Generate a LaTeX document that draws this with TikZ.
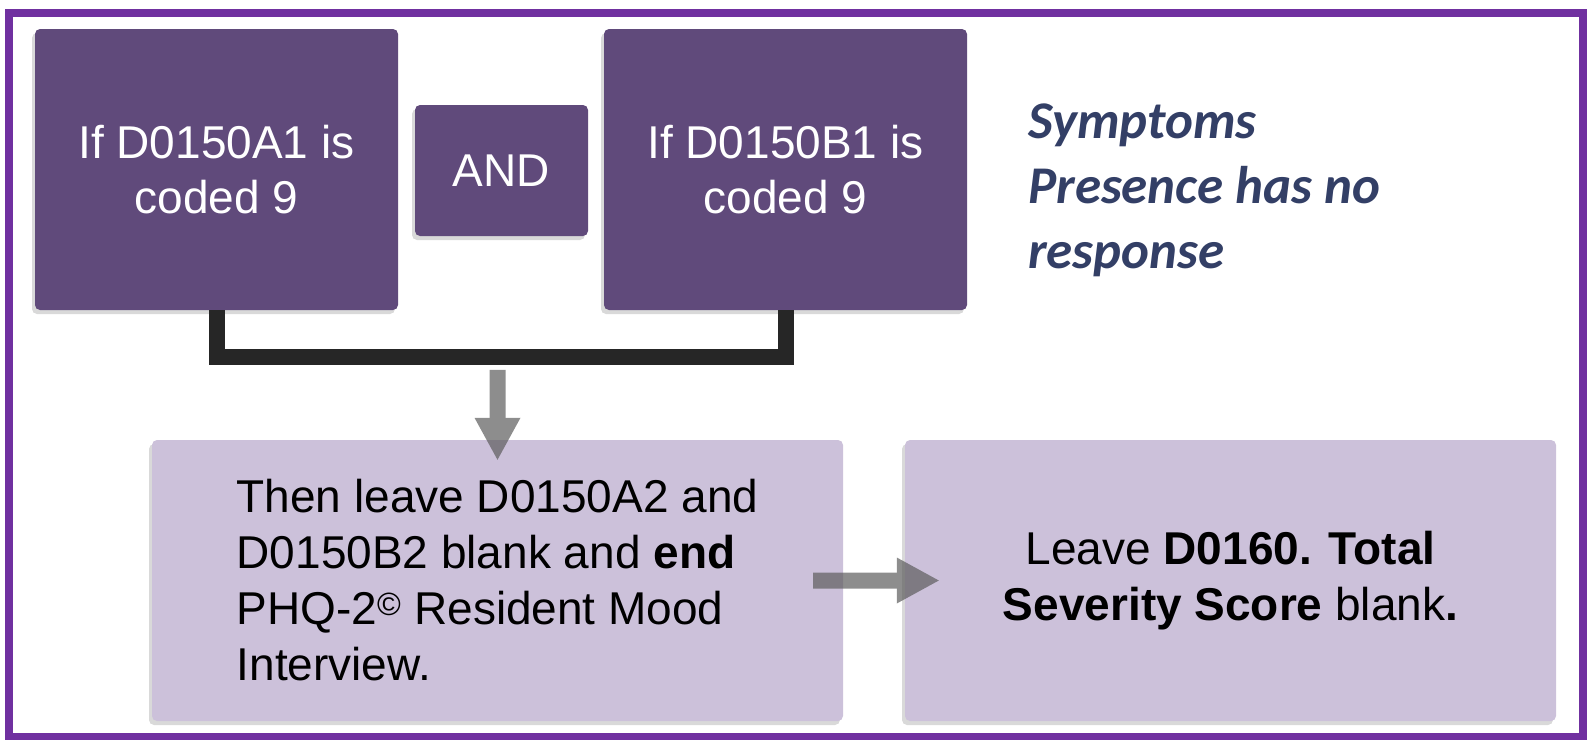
\documentclass[tikz,border=0pt]{standalone}
\usepackage{fontspec}
\setmainfont{Liberation Sans}
\newfontfamily\notefont{Carlito}
\usetikzlibrary{arrows.meta,shadows}
\definecolor{framepurple}{HTML}{7030A0}
\definecolor{darkbox}{HTML}{604A7B}
\definecolor{lightbox}{HTML}{CCC1DA}
\definecolor{notetext}{HTML}{333F66}
\definecolor{bracketgray}{HTML}{262626}
\definecolor{arrowgray}{HTML}{5D5D5D}
\tikzset{
    boxshadow/.style={drop shadow={shadow xshift=-3pt, shadow yshift=-4pt, opacity=0.3}},
    darkstep/.style={fill=darkbox, text=white, rounded corners=5pt, boxshadow, align=center,
        font=\fontsize{46}{55}\selectfont},
    lightstep/.style={fill=lightbox, text=black, rounded corners=5pt, boxshadow,
        font=\fontsize{46}{56}\selectfont},
    bracket/.style={draw=bracketgray, line width=16pt},
    grayarrow/.style={draw=arrowgray, line width=16pt,
        -{Triangle[width=46pt,length=42pt,line width=0pt]}}
}

\begin{document}
\begin{tikzpicture}[x=1pt, y=-1pt]
    \useasboundingbox (0,0) rectangle (1587,739);
    \draw[framepurple, line width=8pt] (9,12.5) rectangle (1583,737);
    \node[darkstep, minimum width=363pt, minimum height=281pt] (a1) at (216.5,169.5) {If D0150A1 is\\coded 9};
    \node[darkstep, minimum width=173pt, minimum height=131pt] (and) at (501.5,170.5) {AND};
    \node[darkstep, minimum width=363pt, minimum height=281pt] (b1) at (785.5,169.5) {If D0150B1 is\\coded 9};
    \node[anchor=north west, inner sep=0pt, align=left, text=notetext,
        font=\notefont\bfseries\itshape\fontsize{53}{65}\selectfont] (note) at (1028,104) {Symptoms\\Presence has no\\response};
    \draw[bracket] (a1.south) -- ++(0,47) -| (b1.south);
    \node[lightstep, align=left, minimum width=691pt, minimum height=281pt] (then) at (497.5,580.5)
        {Then leave D0150A2 and\\D0150B2 blank and \textbf{end}\\PHQ-2\textsuperscript{©} Resident Mood\\Interview.};
    \node[lightstep, align=center, minimum width=651pt, minimum height=281pt] (leave) at (1230.5,580.5)
        {Leave \textbf{D0160. Total}\\\textbf{Severity Score} blank\textbf{.}};
    \begin{scope}[transparency group, opacity=0.7]
        \draw[grayarrow] ([yshift=70pt]then.north) -- ([yshift=-20pt]then.north);
    \end{scope}
    \begin{scope}[transparency group, opacity=0.7]
        \draw[grayarrow] ([xshift=-30pt]then.east) -- ([xshift=34pt]leave.west);
    \end{scope}
\end{tikzpicture}
\end{document}
